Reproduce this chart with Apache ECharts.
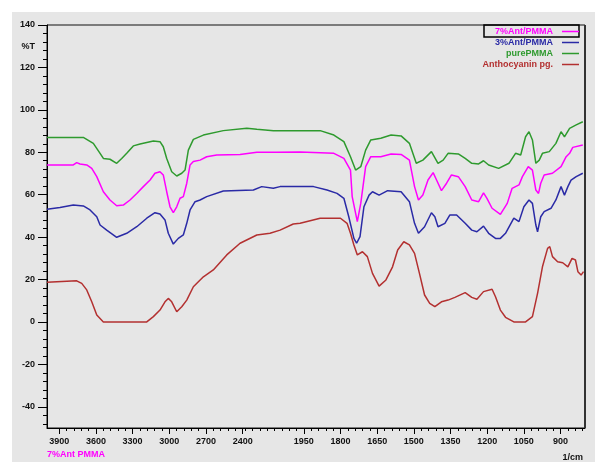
<!DOCTYPE html>
<html>
<head>
<meta charset="utf-8">
<script src="https://cdn.jsdelivr.net/npm/echarts@6/dist/echarts.min.js"></script>
<style>
  html, body { margin: 0; padding: 0; background: #fff; }
  #panel { position: absolute; left: 12px; top: 12px; width: 583px; height: 450px; background: #e6e6e6; }
  #chart { position: absolute; left: 0; top: 0; width: 595px; height: 462px; }
</style>
</head>
<body>
<div id="panel"></div>
<div id="chart"></div>
<script>
// FTIR spectra: wavenumber (1/cm) and transmittance (%T)
const seriesNames = ['7%Ant/PMMA', '3%Ant/PMMA', 'purePMMA', 'Anthocyanin pg.'];
const seriesColors = ['#ff00ff', '#2a2aa6', '#2e9a2e', '#b33030'];

const ant7Wn = [4000,3785,3757,3730,3675,3634,3593,3539,3485,3430,3376,3321,3266,3212,3157,3117,3076,3049,3021,2994,2967,2939,2912,2885,2857,2830,2803,2748,2694,2612,2421,2284,2121,1965,1827,1786,1759,1752,1731,1717,1697,1676,1635,1593,1552,1518,1497,1481,1463,1442,1421,1407,1387,1366,1346,1318,1290,1263,1235,1215,1201,1180,1146,1118,1098,1070,1056,1032,1015,1001,990,981,967,933,898,877,863,850,809];
const ant7T = [74.0,74.0,75.1,74.5,74.0,72.4,68.5,61.4,57.5,54.8,55.1,57.5,60.6,63.8,66.9,70.1,70.8,69.3,61.4,54.3,51.5,54.3,58.3,59.1,65.4,74.0,75.6,76.3,77.9,78.7,79.0,80.0,80.0,80.1,79.5,77.1,71.6,59.1,47.3,55.9,73.2,77.9,77.9,79.2,79.0,76.3,63.8,57.5,59.8,66.9,70.4,66.9,61.9,65.4,69.3,68.5,63.8,57.5,56.7,60.9,58.3,53.6,50.7,55.9,63.0,64.6,68.5,73.2,71.6,62.2,60.6,65.4,69.3,70.1,73.2,77.9,79.5,82.3,83.4];

const ant3Wn = [4000,3894,3785,3703,3648,3593,3566,3512,3430,3348,3266,3184,3117,3076,3035,3008,2967,2926,2885,2857,2830,2789,2748,2694,2558,2312,2244,2149,2094,1965,1910,1855,1814,1786,1766,1745,1734,1720,1704,1683,1669,1642,1607,1552,1518,1497,1481,1456,1428,1414,1401,1373,1353,1325,1290,1263,1242,1215,1194,1166,1146,1125,1091,1070,1050,1029,1015,1001,994,981,967,939,919,898,884,870,857,836,809];
const ant3T = [53.1,54.0,55.1,54.7,52.8,49.6,45.7,43.3,39.9,41.8,44.9,48.9,51.5,50.9,48.1,41.8,36.7,39.4,41.0,46.5,52.8,56.7,57.5,59.1,61.7,62.2,63.8,63.0,63.8,63.8,63.8,62.2,60.6,58.3,49.6,39.4,37.1,40.2,54.3,59.8,61.4,59.8,61.9,61.4,56.7,46.5,41.8,44.9,51.5,49.6,44.9,46.5,50.4,50.4,46.5,43.3,42.5,45.2,41.8,39.4,39.4,41.8,48.9,47.3,54.3,57.5,55.9,45.7,42.5,49.6,52.0,53.6,57.5,63.8,59.8,63.8,66.9,68.5,70.1];

const pureWn = [4000,3703,3621,3566,3539,3485,3430,3389,3348,3294,3239,3130,3076,3049,3021,2980,2939,2898,2871,2844,2803,2721,2558,2366,2284,2148,1965,1883,1827,1786,1759,1738,1717,1697,1676,1635,1593,1552,1518,1490,1463,1428,1401,1380,1360,1318,1290,1263,1235,1215,1194,1153,1111,1084,1063,1043,1029,1015,1001,987,974,946,919,898,884,863,836,809];
const pureT = [87.0,87.0,84.2,79.5,77.1,76.7,74.8,77.1,79.5,83.0,83.9,85.3,85.0,82.6,77.1,70.8,68.8,70.1,71.6,81.0,86.1,88.1,90.2,91.3,90.8,90.2,90.2,90.2,88.1,85.0,77.9,71.6,73.2,81.0,85.8,86.6,88.1,87.7,84.2,74.8,76.3,80.3,74.8,76.3,79.5,79.2,77.1,74.8,74.5,76.0,74.0,72.4,74.8,79.5,78.7,87.3,89.7,85.8,74.8,76.3,79.5,80.3,84.2,89.7,87.3,91.3,92.9,94.4];

const anthoWn = [4000,3757,3716,3675,3634,3593,3539,3184,3130,3076,3035,3008,2980,2939,2898,2857,2803,2721,2640,2530,2421,2284,2176,2094,1993,1965,1883,1800,1773,1759,1745,1731,1710,1690,1669,1642,1614,1587,1566,1541,1518,1497,1477,1456,1435,1414,1387,1360,1332,1290,1263,1242,1215,1180,1166,1146,1125,1091,1043,1015,994,974,953,944,933,912,891,870,853,839,829,816,806];
const anthoT = [18.7,19.4,18.2,15.1,9.5,3.3,0,0,2.5,5.6,9.5,11.1,9.5,4.8,7.2,10.3,16.6,21.3,24.5,31.6,37.1,41.0,41.8,43.3,46.2,46.5,48.9,48.9,46.5,41.8,36.3,31.6,33.1,30.8,22.9,16.9,19.8,26.0,33.9,37.8,36.3,32.3,22.9,12.7,8.8,7.2,9.5,10.3,11.6,13.8,11.6,10.7,14.3,15.4,11.9,5.6,2.2,0,0,2.5,13.5,26.0,34.7,35.5,30.8,28.4,27.9,26.0,30.0,29.2,23.7,22.1,23.7];

const xTickLabels = [3900, 3600, 3300, 3000, 2700, 2400, 1950, 1800, 1650, 1500, 1350, 1200, 1050, 900];
const yTickLabels = [140, 120, 100, 80, 60, 40, 20, 0, -20, -40];
const yUnitLabel = '%T';
const xUnitLabel = '1/cm';
const activeSpectrum = '7%Ant PMMA';

// The region above 2000 1/cm is drawn at half scale, as on the instrument printout
function toAxis(w) { return w > 2000 ? 2000 + (w - 2000) / 2 : w; }
function fromAxis(u) { return u > 2000 ? Math.round(2 * u - 2000) : Math.round(u); }

const X_MIN = toAxis(800), X_MAX = toAxis(4000);
const Y_MIN = -50, Y_MAX = 140;
const FONT = '"Liberation Sans", Arial, sans-serif';

// minor tick positions (axis units)
const xMinor = [];
for (let u = toAxis(3900); u >= toAxis(2400) - 0.1; u -= 30) xMinor.push(u);
for (let u = 1950; u < toAxis(2400); u += 30) xMinor.push(u);
for (let u = 1950; u >= X_MIN; u -= 30) xMinor.push(u);
const yMinor = [];
for (let v = -48; v <= Y_MAX; v += 4) yMinor.push(v);

const spectra = [[ant7Wn, ant7T], [ant3Wn, ant3T], [pureWn, pureT], [anthoWn, anthoT]];

const chart = echarts.init(document.getElementById('chart'), null, { renderer: 'canvas' });
const legendTops = [27, 38, 49, 60];

chart.setOption({
  animation: false,
  grid: { left: 47, right: 10, top: 25, bottom: 34, show: true, borderColor: '#111', borderWidth: 1 },
  legend: seriesNames.map((n, i) => ({
    data: [{ name: n, textStyle: { color: seriesColors[i] } }],
    right: 16, top: legendTops[i], orient: 'horizontal', align: 'right',
    icon: 'rect', itemWidth: 17, itemHeight: 1.5, padding: 0, itemGap: 0,
    textStyle: { fontSize: 9, fontWeight: 'bold', fontFamily: FONT, padding: [0, 4, 0, 0] }
  })),
  xAxis: [
    {
      type: 'value', inverse: true, min: X_MIN, max: X_MAX, position: 'bottom',
      axisLine: { show: true, onZero: false, lineStyle: { color: '#000', width: 1 } },
      axisTick: { show: true, length: 6, customValues: xTickLabels.map(toAxis), lineStyle: { color: '#000' } },
      axisLabel: {
        customValues: xTickLabels.map(toAxis), margin: 9,
        formatter: v => String(fromAxis(v)),
        color: '#111', fontSize: 9, fontFamily: FONT, fontWeight: 'bold'
      },
      splitLine: { show: false }
    },
    {
      type: 'value', inverse: true, min: X_MIN, max: X_MAX, position: 'bottom',
      axisLine: { show: false, onZero: false },
      axisTick: { show: true, length: 3, customValues: xMinor, lineStyle: { color: '#000' } },
      axisLabel: { show: false }, splitLine: { show: false }
    }
  ],
  yAxis: [
    {
      type: 'value', min: Y_MIN, max: Y_MAX, position: 'left',
      axisLine: { show: true, onZero: false, lineStyle: { color: '#000', width: 1 } },
      axisTick: { show: true, length: 9, customValues: yTickLabels, lineStyle: { color: '#000' } },
      axisLabel: {
        customValues: yTickLabels.concat([130]), margin: 12,
        formatter: v => (v === 130 ? yUnitLabel : String(v)),
        color: '#111', fontSize: 9, fontFamily: FONT, fontWeight: 'bold'
      },
      splitLine: { show: false }
    },
    {
      type: 'value', min: Y_MIN, max: Y_MAX, position: 'left',
      axisLine: { show: false, onZero: false },
      axisTick: { show: true, length: 4, customValues: yMinor, lineStyle: { color: '#000' } },
      axisLabel: { show: false }, splitLine: { show: false }
    }
  ],
  series: spectra.map(([wn, t], i) => ({
    name: seriesNames[i], type: 'line', xAxisIndex: 0, yAxisIndex: 0,
    symbol: 'none', smooth: false,
    lineStyle: { color: seriesColors[i], width: 1.5 },
    itemStyle: { color: seriesColors[i] },
    data: wn.map((w, k) => [toAxis(w), t[k]])
  })),
  graphic: [
    { type: 'rect', shape: { x: 484, y: 25, width: 95, height: 12 }, style: { fill: 'none', stroke: '#000', lineWidth: 1.5 }, silent: true },
    { type: 'line', shape: { x1: 585, y1: 25, x2: 585, y2: 428 }, style: { stroke: '#333', lineWidth: 2 }, silent: true },
    { type: 'text', x: 47, y: 455, style: { text: activeSpectrum, fill: '#ff00ff', font: 'bold 9px ' + FONT, textVerticalAlign: 'middle' }, silent: true },
    { type: 'text', x: 583, y: 458, style: { text: xUnitLabel, fill: '#111', font: 'bold 9px ' + FONT, textAlign: 'right', textVerticalAlign: 'middle' }, silent: true }
  ]
});
</script>
</body>
</html>
